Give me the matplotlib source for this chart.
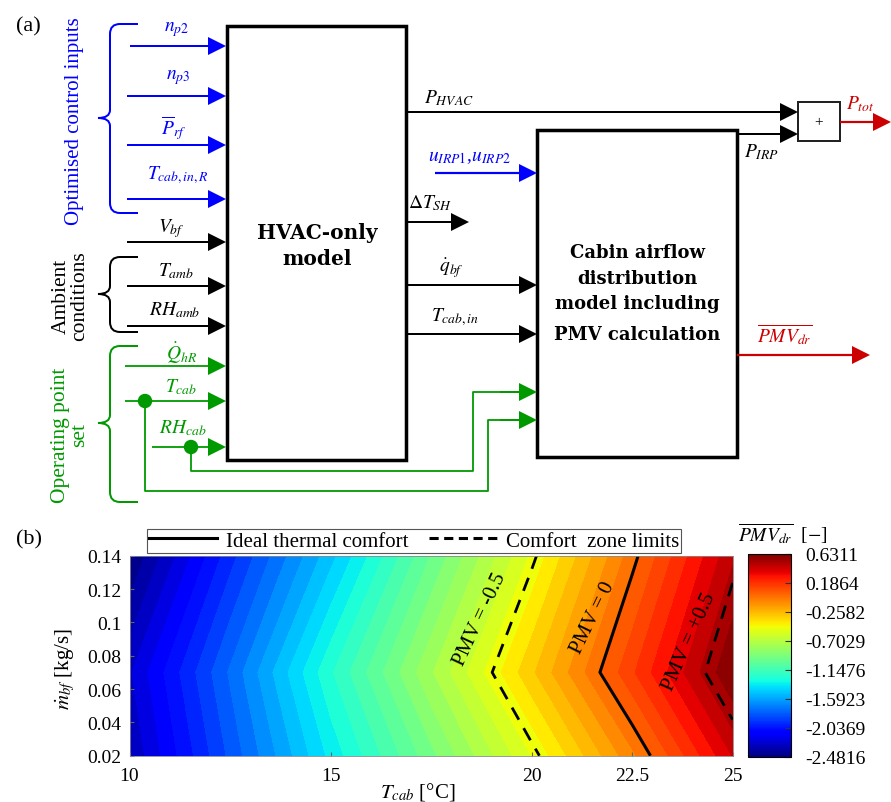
import numpy as np
import matplotlib
matplotlib.use("Agg")
import matplotlib.pyplot as plt
from matplotlib.patches import Rectangle, Circle, Polygon, PathPatch
from matplotlib.path import Path
from matplotlib.lines import Line2D
from matplotlib import cm, colors

plt.rcParams['font.family'] = ['Liberation Serif', 'DejaVu Serif']
plt.rcParams['mathtext.fontset'] = 'stix'

# ---- panel (b) data ----
t_cab = [10, 12.5, 15, 17.5, 20, 22.5, 25]
m_bf = [0.02, 0.07, 0.14]
pmv_m002 = [-2.32, -1.84, -1.37, -0.95, -0.535, -0.09, 0.40]
pmv_m007 = [-2.26, -1.77, -1.25, -0.78, -0.32, 0.15, 0.6311]
pmv_m014 = [-2.4816, -1.97, -1.50, -1.00, -0.525, -0.03, 0.46]
pmv_min, pmv_max = -2.4816, 0.6311
x_ticks = [10, 15, 20, 22.5, 25]
x_ticklabels = ['10', '15', '20', '22.5', '25']
y_ticks = [0.02, 0.04, 0.06, 0.08, 0.1, 0.12, 0.14]
y_ticklabels = ['0.02', '0.04', '0.06', '0.08', '0.1', '0.12', '0.14']

BLUE = '#0000ff'
GREEN = '#009900'
RED = '#cc0000'

W, H = 891, 803
fig = plt.figure(figsize=(W / 100, H / 100), dpi=100)

# ---- panel (a): block diagram drawn in pixel coordinates ----
ax0 = fig.add_axes([0, 0, 1, 1])
ax0.set_xlim(0, W)
ax0.set_ylim(H, 0)
ax0.axis('off')


def pt(v):
    return v / 1.389


def arrow(x0, x1, y, c, lw=2.0, hl=18, hw=9):
    ax0.plot([x0, x1 - hl + 1], [y, y], color=c, lw=pt(lw), solid_capstyle='butt')
    ax0.add_patch(Polygon([[x1 - hl, y - hw], [x1, y], [x1 - hl, y + hw]],
                          closed=True, fc=c, ec='none'))


def brace(y0, y1, ym, c, xv=110, xt=98, xe=138, r=10, rt=8):
    verts = [(xe, y0), (xv + r, y0), (xv, y0), (xv, y0 + r), (xv, ym - rt),
             (xv, ym), (xt, ym), (xv, ym), (xv, ym + rt), (xv, y1 - r),
             (xv, y1), (xv + r, y1), (xe, y1)]
    codes = [Path.MOVETO, Path.LINETO, Path.CURVE3, Path.CURVE3, Path.LINETO,
             Path.CURVE3, Path.CURVE3, Path.CURVE3, Path.CURVE3, Path.LINETO,
             Path.CURVE3, Path.CURVE3, Path.LINETO]
    ax0.add_patch(PathPatch(Path(verts, codes), fc='none', ec=c, lw=pt(2)))


def lab(x, y, s, c='k', size=14, **kw):
    ax0.text(x, y, s, color=c, fontsize=size, ha='center', va='center', **kw)


# blocks
ax0.add_patch(Rectangle((226.5, 27), 179, 434, fill=False, ec='k', lw=pt(3.5)))
ax0.add_patch(Rectangle((537, 131), 200, 327, fill=False, ec='k', lw=pt(3.5)))
ax0.add_patch(Rectangle((798, 103), 42, 39, fc='white', ec='#222222', lw=pt(2)))
lab(819, 123, '+', size=11)

for line, y in zip(['HVAC-only', 'model'], [233, 259]):
    ax0.text(317, y, line, fontsize=14.5, fontweight='bold', family='DejaVu Serif',
             ha='center', va='center')
for line, y in zip(['Cabin airflow', 'distribution', 'model including',
                    'PMV calculation'], [253, 279, 304, 335]):
    ax0.text(637, y, line, fontsize=13, fontweight='bold', family='DejaVu Serif',
             ha='center', va='center')

# inputs of the HVAC block
for y, x0 in zip([47, 97, 146, 200], [130, 127, 127, 127]):
    arrow(x0, 226, y, BLUE)
for y in [243, 287, 327]:
    arrow(127, 226, y, 'k')
arrow(125, 226, 367, GREEN, lw=1.8)
arrow(125, 226, 402, GREEN, lw=1.8)
arrow(152, 226, 448, GREEN, lw=1.8)

lab(177, 30, r'$n_{p2}$', BLUE)
lab(178, 78, r'$n_{p3}$', BLUE)
lab(174, 128, r'$\overline{P}_{rf}$', BLUE)
lab(178, 175, r'$T_{cab,in,R}$', BLUE)
lab(171, 229, r'$V_{bf}$')
lab(176, 271, r'$T_{amb}$')
lab(175, 310, r'$RH_{amb}$')
lab(182, 353, r'$\dot{Q}_{hR}$', GREEN)
lab(181, 387, r'$T_{cab}$', GREEN)
lab(183, 428, r'$RH_{cab}$', GREEN)

brace(25, 214, 119, BLUE)
brace(258, 333, 295, 'k')
brace(347, 503, 424, GREEN)
lab(75, 121, 'Optimised control inputs', BLUE, size=15, rotation=90)
lab(70, 296, 'Ambient\nconditions', 'k', size=15.5, rotation=90, linespacing=0.95)
lab(70, 435, 'Operating point\nset', GREEN, size=15.5, rotation=90, linespacing=0.95)

# green routing to the cabin block
ax0.plot([191, 191, 473, 473, 520], [448, 472, 472, 393, 393], color=GREEN, lw=pt(1.8))
ax0.plot([145, 145, 488, 488, 520], [402, 492, 492, 421, 421], color=GREEN, lw=pt(1.8))
arrow(500, 537, 393, GREEN, lw=1.8)
arrow(500, 537, 421, GREEN, lw=1.8)
ax0.add_patch(Circle((145, 402), 6.5, color=GREEN))
ax0.add_patch(Circle((191, 448), 6.5, color=GREEN))

# outputs
arrow(406, 798, 113, 'k')
arrow(737, 798, 135, 'k')
arrow(435, 537, 174, BLUE, lw=2.2)
arrow(406, 469, 223, 'k')
arrow(406, 537, 286, 'k')
arrow(406, 537, 335, 'k')
arrow(737, 870, 356, RED, lw=2.2)
arrow(840, 891, 123, RED, lw=2.2)
lab(449, 98, r'$P_{HVAC}$')
lab(470, 158, r'$u_{IRP1}$,$u_{IRP2}$', BLUE)
lab(430, 203, r'$\Delta T_{SH}$')
lab(451, 268, r'$\dot{q}_{bf}$')
lab(455, 317, r'$T_{cab,in}$')
lab(762, 152, r'$P_{IRP}$')
lab(860, 104, r'$P_{tot}$', RED)
lab(785, 335, r'$\overline{PMV_{dr}}$', RED)

ax0.text(16, 27, '(a)', fontsize=16, va='center')
ax0.text(16, 540, '(b)', fontsize=16, va='center')

# ---- panel (b): PMV map ----
ax = fig.add_axes([129.5 / W, 1 - 756.7 / H, 603 / W, 200 / H])
T, M = np.meshgrid(t_cab, m_bf)
Z = np.array([pmv_m002, pmv_m007, pmv_m014])
cf = ax.contourf(T, M, Z, levels=np.linspace(pmv_min, pmv_max, 41), cmap='jet',
                 vmin=pmv_min, vmax=pmv_max, antialiased=False)
ax.contour(T, M, Z, levels=[-0.5, 0.5], colors='k', linewidths=2,
           linestyles=[(0, (5, 3.5))])
ax.contour(T, M, Z, levels=[0], colors='k', linewidths=2.2)

ax.text(18.72, 0.102, 'PMV = -0.5', rotation=65, ha='center', va='center', fontsize=15)
ax.text(21.53, 0.103, 'PMV = 0', rotation=64, ha='center', va='center', fontsize=15)
ax.text(23.92, 0.089, 'PMV = +0.5', rotation=66, ha='center', va='center', fontsize=15)

ax.set_xlim(10, 25)
ax.set_ylim(0.02, 0.14)
ax.set_xticks(x_ticks)
ax.set_xticklabels(x_ticklabels)
ax.set_yticks(y_ticks)
ax.set_yticklabels(y_ticklabels)
ax.tick_params(direction='in', length=3, color='#666666', labelsize=14, pad=6)
ax.tick_params(axis='x', pad=8)
for s in ax.spines.values():
    s.set_color('#888888')
    s.set_linewidth(0.6)
ax.set_xlabel(r'$T_{cab}$ [°C]', fontsize=15)
ax.set_ylabel(r'$\dot{m}_{bf}$ [kg/s]', fontsize=15)
ax.xaxis.set_label_coords(0.478, -0.12)
ax.yaxis.set_label_coords(-0.087, 0.44)

handles = [Line2D([], [], color='k', lw=2.2),
           Line2D([], [], color='k', lw=2.2, ls=(0, (3, 1.8)))]
leg = ax.legend(handles, ['Ideal thermal comfort', 'Comfort  zone limits'], ncol=2,
                loc='lower center', bbox_to_anchor=(0.472, 1.015), fancybox=False,
                edgecolor='#555555', framealpha=1, fontsize=15, handlelength=3.25,
                borderpad=0.1, columnspacing=1.0, handletextpad=0.43, borderaxespad=0)
leg.get_frame().set_linewidth(0.8)

cax = fig.add_axes([748 / W, 1 - 758 / H, 43 / W, 203 / H])
sm = cm.ScalarMappable(norm=colors.Normalize(pmv_min, pmv_max), cmap='jet')
cb_ticks = np.linspace(pmv_min, pmv_max, 8)
cb = fig.colorbar(sm, cax=cax, ticks=cb_ticks)
cb.ax.set_yticklabels(['%.4f' % v for v in cb_ticks])
cax.tick_params(direction='in', length=4, pad=10, labelsize=14, color='#333333')
cb.outline.set_linewidth(0.8)
cax.text(0.81, 1.1, r'$\overline{PMV_{dr}}$  [$-$]', transform=cax.transAxes,
         ha='center', va='center', fontsize=14)

fig.savefig('out.png', dpi=100)
